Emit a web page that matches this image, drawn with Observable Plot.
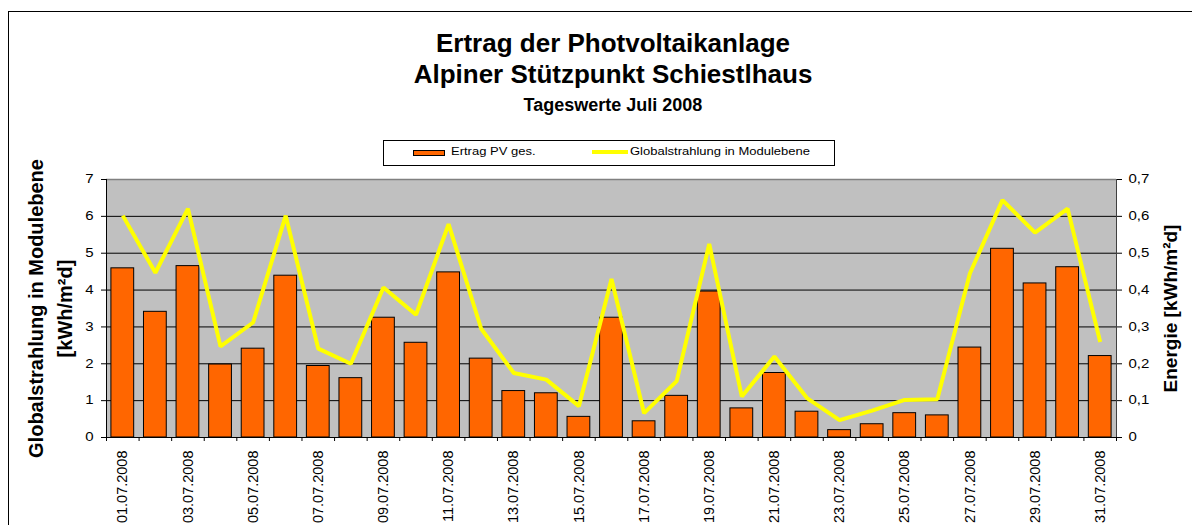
<!DOCTYPE html>
<html>
<head>
<meta charset="utf-8">
<script src="https://cdn.jsdelivr.net/npm/d3@7"></script>
<script src="https://cdn.jsdelivr.net/npm/@observablehq/plot@0.6"></script>
<style>
  html, body { margin: 0; padding: 0; background: #fff; }
  body { width: 1192px; height: 525px; overflow: hidden; position: relative; font-family: Arial, "Liberation Sans", sans-serif; color: #000; }
  .frame { position: absolute; left: 8px; top: 11px; width: 1300px; height: 700px; border: 1px solid #000; box-sizing: border-box; }
  .t { position: absolute; left: 0; width: 1226px; text-align: center; font-weight: bold; white-space: nowrap; }
  .legend { position: absolute; left: 383px; top: 140px; width: 452px; height: 26px; border: 1px solid #000; box-sizing: border-box; background: #fff; }
  .lt { position: absolute; font-size: 10px; line-height: 10px; top: 146.5px; transform: scaleX(1.3); transform-origin: left center; white-space: nowrap; }
  #chart { position: absolute; left: 0; top: 170px; }
</style>
</head>
<body>
<div class="frame"></div>
<div class="t" style="top:29.7px;font-size:26px;line-height:26px;">Ertrag der Photvoltaikanlage</div>
<div class="t" style="top:61px;font-size:26px;line-height:26px;">Alpiner Stützpunkt Schiestlhaus</div>
<div class="t" style="top:95.8px;font-size:18px;line-height:18px;">Tageswerte Juli 2008</div>
<div class="legend"></div>
<div style="position:absolute;left:413px;top:150px;width:32px;height:6px;box-sizing:border-box;border:1px solid #000;background:#FF6600;"></div>
<div class="lt" style="left:451px;">Ertrag PV ges.</div>
<div style="position:absolute;left:592px;top:150px;width:36px;height:3.5px;background:#FFFF00;"></div>
<div class="lt" style="left:630px;">Globalstrahlung in Modulebene</div>
<div id="chart"></div>
<script>
// ---- data ----
const dates = [
  "01.07.2008","02.07.2008","03.07.2008","04.07.2008","05.07.2008","06.07.2008","07.07.2008","08.07.2008",
  "09.07.2008","10.07.2008","11.07.2008","12.07.2008","13.07.2008","14.07.2008","15.07.2008","16.07.2008",
  "17.07.2008","18.07.2008","19.07.2008","20.07.2008","21.07.2008","22.07.2008","23.07.2008","24.07.2008",
  "25.07.2008","26.07.2008","27.07.2008","28.07.2008","29.07.2008","30.07.2008","31.07.2008"
];
// Ertrag PV ges. [kWh/m²d] (right axis)
const ertragPV = [
  0.459, 0.341, 0.465, 0.198, 0.241, 0.439, 0.194, 0.161, 0.325, 0.257,
  0.448, 0.214, 0.126, 0.120, 0.056, 0.325, 0.044, 0.113, 0.396, 0.079,
  0.175, 0.070, 0.020, 0.036, 0.066, 0.060, 0.244, 0.512, 0.418, 0.462, 0.221
];
// Globalstrahlung in Modulebene [kWh/m²d] (left axis)
const globalstrahlung = [
  6.02, 4.47, 6.21, 2.47, 3.12, 6.02, 2.41, 2.00, 4.07, 3.33,
  5.79, 2.95, 1.75, 1.57, 0.85, 4.30, 0.66, 1.53, 5.25, 1.11,
  2.20, 1.07, 0.47, 0.73, 1.02, 1.04, 4.45, 6.44, 5.56, 6.21, 2.59
];
const leftTicks = [0, 1, 2, 3, 4, 5, 6, 7];
const rightTickLabels = ["0", "0,1", "0,2", "0,3", "0,4", "0,5", "0,6", "0,7"];
const energyScale = 10; // right axis (0–0,7) maps onto left axis (0–7)

const data = dates.map((d, i) => ({day: i + 1, date: d, ertrag: ertragPV[i], global: globalstrahlung[i]}));
const labelData = data.filter((d, i) => i % 2 === 0);
const boundaries = d3.range(0.5, dates.length + 1, 1);

const chart = Plot.plot({
  width: 1192,
  height: 355,
  marginTop: 9,
  marginBottom: 88,
  marginLeft: 106,
  marginRight: 76,
  style: {fontFamily: 'Arial, "Liberation Sans", sans-serif', background: "transparent", overflow: "visible", color: "#000"},
  x: {type: "linear", domain: [0.5, dates.length + 0.5], axis: null},
  y: {domain: [0, 7], axis: null},
  marks: [
    Plot.frame({fill: "#C0C0C0", stroke: null}),
    Plot.ruleY(leftTicks.slice(1, -1), {stroke: "#000", strokeWidth: 1}),
    Plot.ruleY([7], {stroke: "#808080", strokeWidth: 1.5}),
    Plot.rectY(data, {
      x1: d => d.day - 0.5, x2: d => d.day + 0.5, y: d => d.ertrag * energyScale,
      insetLeft: 4.9, insetRight: 4.9, fill: "#FF6600", stroke: "#000", strokeWidth: 1
    }),
    Plot.line(data, {x: "day", y: "global", stroke: "#FFFF00", strokeWidth: 4, strokeLinejoin: "miter", strokeLinecap: "butt"}),
    Plot.ruleY([0], {stroke: "#000"}),
    Plot.ruleX([0.5], {stroke: "#000"}),
    Plot.ruleX([dates.length + 0.5], {stroke: "#404040"}),
    Plot.axisY({ticks: leftTicks, tickSize: 5, tickPadding: 8, fontSize: 12, label: null, tickFormat: d => String(d)}),
    Plot.axisY({anchor: "right", ticks: leftTicks, tickSize: 5, tickPadding: 7, fontSize: 12, label: null,
      tickFormat: d => rightTickLabels[leftTicks.indexOf(d)]}),
    Plot.axisX({ticks: boundaries, tickSize: 4, tickFormat: () => "", label: null}),
    Plot.text(labelData, {
      x: "day", text: "date", frameAnchor: "bottom", rotate: -90, textAnchor: "end", lineAnchor: "middle",
      dy: 13, fontSize: 14.5, ariaLabel: "xlab"
    }),
    Plot.text(["Globalstrahlung in Modulebene\n[kWh/m²d]"], {
      frameAnchor: "left", rotate: -90, textAnchor: "middle", lineAnchor: "middle",
      dx: -58, fontSize: 20, fontWeight: "bold", lineHeight: 1.45
    }),
    Plot.text(["Energie [kWh/m²d]"], {
      frameAnchor: "right", rotate: -90, textAnchor: "middle", lineAnchor: "middle",
      dx: 54.5, fontSize: 19, fontWeight: "bold"
    })
  ]
});

// horizontal stretch of small labels as in the original Excel rendering
d3.select(chart).selectAll('g[aria-label="y-axis tick label"] text')
  .attr("transform", function() { return (this.getAttribute("transform") || "") + " scale(1.25,1)"; });
d3.select(chart).selectAll('g[aria-label="xlab"] text')
  .attr("transform", function() { return (this.getAttribute("transform") || "") + " scale(1,1.15)"; });

document.getElementById("chart").appendChild(chart);
</script>
</body>
</html>
